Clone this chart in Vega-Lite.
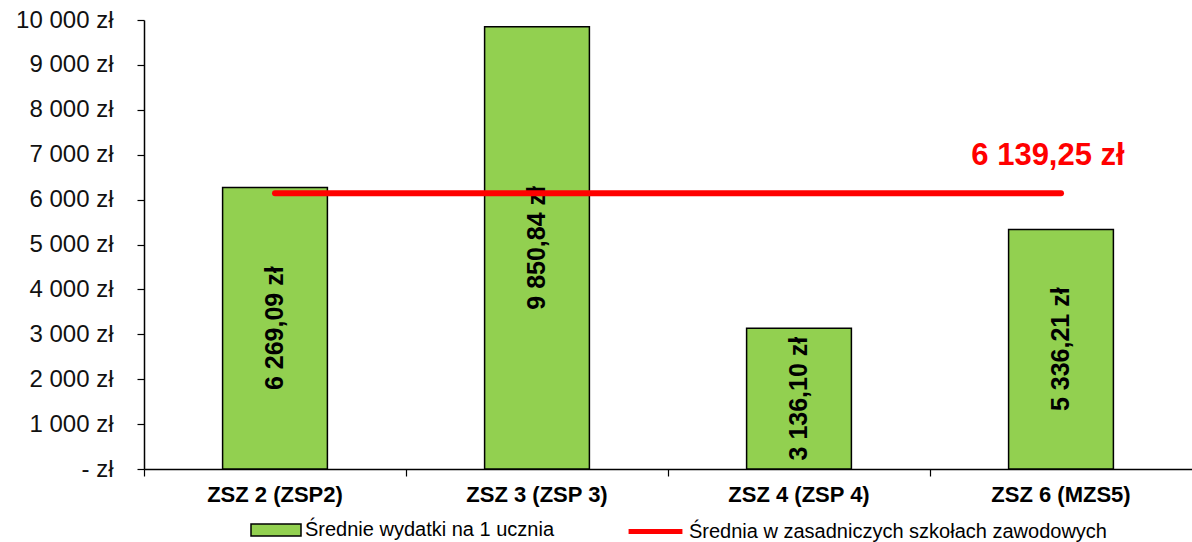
{
  "$schema": "https://vega.github.io/schema/vega-lite/v6.json",
  "width": 1048,
  "height": 449,
  "autosize": {"type": "none"},
  "padding": {"left": 144, "top": 20, "right": 0, "bottom": 73},
  "config": {
    "view": {"stroke": null},
    "font": "Liberation Sans",
    "locale": {"number": {"decimal": ",", "thousands": " ", "grouping": [3], "currency": ["", " zł"]}}
  },
  "datasets": {
    "schools": [
      {"szkola": "ZSZ 2 (ZSP2)", "wydatki": 6269.09, "seria_bar": "Średnie wydatki  na 1 ucznia"},
      {"szkola": "ZSZ 3 (ZSP 3)", "wydatki": 9850.84, "seria_bar": "Średnie wydatki  na 1 ucznia"},
      {"szkola": "ZSZ 4 (ZSP 4)", "wydatki": 3136.10, "seria_bar": "Średnie wydatki  na 1 ucznia"},
      {"szkola": "ZSZ 6 (MZS5)", "wydatki": 5336.21, "seria_bar": "Średnie wydatki  na 1 ucznia"}
    ],
    "srednia": [
      {"szkola": "ZSZ 2 (ZSP2)", "srednia": 6139.25, "seria_line": "Średnia w zasadniczych szkołach zawodowych"},
      {"szkola": "ZSZ 6 (MZS5)", "srednia": 6139.25, "seria_line": "Średnia w zasadniczych szkołach zawodowych"}
    ]
  },
  "encoding": {
    "x": {
      "field": "szkola",
      "type": "nominal",
      "sort": null,
      "scale": {"paddingInner": 0.6, "paddingOuter": 0.3},
      "axis": {
        "title": null,
        "labelAngle": 0,
        "labelFont": "Liberation Sans",
        "labelFontSize": 22,
        "labelFontWeight": "bold",
        "labelColor": "#000000",
        "labelPadding": 8,
        "bandPosition": -0.75,
        "tickSize": 7,
        "tickColor": "#000000",
        "tickWidth": 1.2,
        "domainColor": "#000000",
        "domainWidth": 1.5
      }
    }
  },
  "layer": [
    {
      "data": {"name": "schools"},
      "mark": {"type": "bar", "stroke": "#000000", "strokeWidth": 1.5},
      "encoding": {
        "y": {
          "field": "wydatki",
          "type": "quantitative",
          "scale": {"domain": [0, 10000], "nice": false},
          "axis": {
            "title": null,
            "grid": false,
            "values": [0, 1000, 2000, 3000, 4000, 5000, 6000, 7000, 8000, 9000, 10000],
            "labelExpr": "datum.value == 0 ? '- zł' : format(datum.value, '$,.0f')",
            "labelFont": "Liberation Sans",
            "labelFontSize": 24,
            "labelColor": "#111111",
            "labelPadding": 24,
            "tickSize": 7,
            "tickColor": "#000000",
            "tickWidth": 1.2,
            "domainColor": "#000000",
            "domainWidth": 1.5
          }
        },
        "fill": {
          "field": "seria_bar",
          "type": "nominal",
          "scale": {"range": ["#92D050"]},
          "legend": {
            "title": null,
            "orient": "none",
            "legendX": 106,
            "legendY": 484,
            "symbolType": "M-1,-0.24H1V0.24H-1Z",
            "symbolSize": 2500,
            "symbolStrokeColor": "#000000",
            "symbolStrokeWidth": 1.5,
            "symbolOpacity": 1,
            "labelFont": "Liberation Sans",
            "labelFontSize": 20,
            "labelLimit": 700,
            "labelColor": "#000000",
            "labelOffset": 3
          }
        }
      }
    },
    {
      "data": {"name": "schools"},
      "transform": [{"calculate": "datum.wydatki / 2", "as": "polowa"}],
      "mark": {"type": "text", "angle": 270, "align": "center", "baseline": "middle", "font": "Liberation Sans", "fontSize": 25, "fontWeight": "bold", "color": "#000000"},
      "encoding": {
        "y": {"field": "polowa", "type": "quantitative"},
        "text": {"field": "wydatki", "type": "quantitative", "format": "$,.2f"}
      }
    },
    {
      "data": {"name": "srednia"},
      "mark": {"type": "line", "strokeWidth": 6, "strokeCap": "round"},
      "encoding": {
        "y": {"field": "srednia", "type": "quantitative"},
        "stroke": {
          "field": "seria_line",
          "type": "nominal",
          "scale": {"range": ["#FF0000"]},
          "legend": {
            "title": null,
            "orient": "none",
            "legendX": 482,
            "legendY": 482,
            "symbolType": "stroke",
            "symbolSize": 2900,
            "symbolStrokeWidth": 5,
            "symbolStrokeColor": "#FF0000",
            "labelFont": "Liberation Sans",
            "labelFontSize": 20,
            "labelLimit": 700,
            "labelColor": "#000000",
            "labelOffset": 4
          }
        }
      }
    },
    {
      "data": {"name": "srednia"},
      "transform": [{"filter": "datum.szkola == 'ZSZ 6 (MZS5)'"}],
      "mark": {"type": "text", "align": "center", "baseline": "middle", "dx": -13, "dy": -37, "font": "Liberation Sans", "fontSize": 31, "fontWeight": "bold", "color": "#FF0000"},
      "encoding": {
        "y": {"field": "srednia", "type": "quantitative"},
        "text": {"field": "srednia", "type": "quantitative", "format": "$,.2f"}
      }
    }
  ]
}
